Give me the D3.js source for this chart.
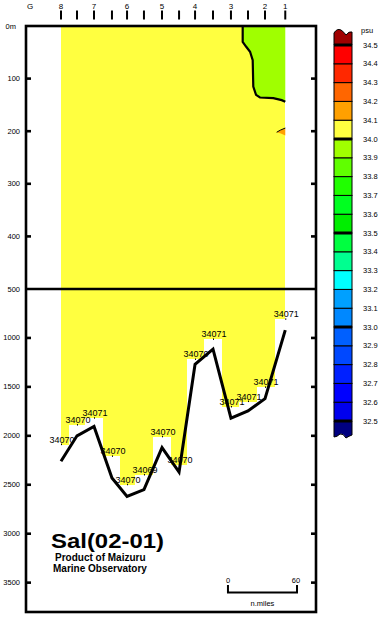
<!DOCTYPE html>
<html>
<head>
<meta charset="utf-8">
<script src="https://cdn.jsdelivr.net/npm/d3@7"></script>
<style>
  body { margin: 0; background: #fff; }
  svg text { font-family: "Liberation Sans", Arial, sans-serif; }
</style>
</head>
<body>
<svg id="chart" width="383" height="619"></svg>
<script>
// stations along the section, n.miles from the coast
let stationNames  = ["8", "", "7", "", "6", "", "5", "", "4", "", "3", "", "2", "1"];
let stationDist   = [30.4, 44.3, 59.1, 74.7, 87.8, 102.5, 118.2, 133, 146.9, 162.5, 178.1, 192.9, 207.7, 225.3];
let seafloorDepth = [2260, 2000, 1905, 2430, 2620, 2550, 2120, 2370, 1270, 1115, 1820, 1745, 1620, 920];
let obsDepth      = [2090, 1890, 1820, 2210, 2500, 2400, 2010, 2300, 1220, 1015, 1705, 1650, 1505, 810];
let bottomSal     = [34.070, 34.070, 34.071, 34.070, 34.070, 34.069, 34.070, 34.070, 34.070, 34.071, 34.071, 34.071, 34.071, 34.071];

// 34.0 psu contour near the surface (dist, depth)
let contour340 = [[188.3, 0], [188.3, 30], [191.2, 39], [194.7, 49], [197, 65], [197.5, 115],
                  [199.9, 131], [203.3, 136], [214.9, 137], [222.2, 141], [225.3, 144]];
let patch341 = [[225.3, 194], [221, 198], [217.8, 202], [221.5, 204.5], [225.3, 208]];

let depthTicks = [0, 100, 200, 300, 400, 500, 1000, 1500, 2000, 2500, 3000, 3500];
let salLevels = [32.5, 32.6, 32.7, 32.8, 32.9, 33.0, 33.1, 33.2, 33.3, 33.4, 33.5,
                 33.6, 33.7, 33.8, 33.9, 34.0, 34.1, 34.2, 34.3, 34.4, 34.5];
let salLabels = ["32.5", "32.6", "32.7", "32.8", "32.9", "33.0", "33.1", "33.2", "33.3", "33.4", "33.5",
                 "33.6", "33.7", "33.8", "33.9", "34.0", "34.1", "34.2", "34.3", "34.4", "34.5"];
let salColors = ["#000080", "#0000ee", "#0000ff", "#0020ff", "#0048ff", "#0060ff", "#0088ff", "#00a0ff",
                 "#00ffff", "#00ff90", "#00ff40", "#00ee00", "#00ff20", "#20ff00", "#60ff00", "#a0ff00",
                 "#ffff40", "#ffa000", "#ff6600", "#ff2800", "#ff0000", "#a00000"];
let majorLevels = [32.5, 33.0, 33.5, 34.0, 34.5];

let svg = d3.select("#chart");

let x = d3.scaleLinear().domain([0, 252]).range([26, 316]);
let y = d3.scaleLinear().domain([0, 500, 3800]).range([26, 289, 612]);
let color = d3.scaleThreshold().domain(salLevels).range(salColors);

svg.append("rect").attr("width", 383).attr("height", 619).attr("fill", "#fff");

// data columns, each station reaching down to its deepest bottle
let n = stationDist.length;
let edges = stationDist.map(function(d, i) {
  let left = i === 0 ? d : (stationDist[i - 1] + d) / 2;
  let right = i === n - 1 ? d : (stationDist[i + 1] + d) / 2;
  return [left, right];
});

svg.append("g").selectAll("rect")
  .data(stationDist)
  .enter().append("rect")
    .attr("x", function(d, i) { return x(edges[i][0]); })
    .attr("width", function(d, i) { return x(edges[i][1]) - x(edges[i][0]); })
    .attr("y", y(0))
    .attr("height", function(d, i) { return y(obsDepth[i]) - y(0); })
    .attr("fill", function(d, i) { return color(bottomSal[i]); })
    .attr("shape-rendering", "crispEdges");

// fresher water (33.9 - 34.0) in the upper right
let greenPoly = contour340.concat([[stationDist[n - 1], 0]]);
svg.append("path")
  .attr("d", d3.line().x(function(d) { return x(d[0]); }).y(function(d) { return y(d[1]); })(greenPoly) + "Z")
  .attr("fill", color(33.95));

svg.append("path")
  .attr("d", d3.line().x(function(d) { return x(d[0]); }).y(function(d) { return y(d[1]); })(patch341) + "Z")
  .attr("fill", color(34.15));
svg.append("path")
  .attr("d", d3.line().x(function(d) { return x(d[0]); }).y(function(d) { return y(d[1]); })(patch341.slice(0, 3)))
  .attr("fill", "none").attr("stroke", "#000").attr("stroke-width", 1);

svg.append("path")
  .attr("d", d3.line().x(function(d) { return x(d[0]); }).y(function(d) { return y(d[1]); })(contour340))
  .attr("fill", "none").attr("stroke", "#000").attr("stroke-width", 2.2);

// bottom values
let bottomLabels = svg.append("g");
bottomLabels.selectAll("text")
  .data(stationDist)
  .enter().append("text")
    .attr("x", function(d) { return x(d) + 1; })
    .attr("y", function(d, i) { return y(obsDepth[i]) - 2; })
    .attr("text-anchor", "middle")
    .attr("font-size", "9px")
    .text(function(d, i) { return d3.format("d")(Math.round(bottomSal[i] * 1000)); });
bottomLabels.selectAll("rect")
  .data(stationDist)
  .enter().append("rect")
    .attr("x", function(d) { return x(d); })
    .attr("y", function(d, i) { return y(obsDepth[i]) - 1; })
    .attr("width", 1).attr("height", 1.5)
    .attr("fill", "#000");

// sea floor, drawn over the labels as in the original
svg.append("path")
  .datum(stationDist)
  .attr("d", d3.line().x(function(d) { return x(d); }).y(function(d, i) { return y(seafloorDepth[i]); }))
  .attr("fill", "none").attr("stroke", "#000").attr("stroke-width", 3)
  .attr("stroke-linejoin", "miter");

// frame
let frame = svg.append("g").attr("stroke", "#000").attr("stroke-width", 2.6).attr("fill", "none");
frame.append("rect")
  .attr("x", x(0)).attr("y", y(0))
  .attr("width", x(252) - x(0)).attr("height", y(3800) - y(0));
frame.append("line")
  .attr("x1", x(0)).attr("x2", x(252)).attr("y1", y(500)).attr("y2", y(500));

// depth ticks on both sides
let ticks = svg.append("g").attr("stroke", "#000").attr("stroke-width", 2.6);
depthTicks.filter(function(d) { return d !== 0 && d !== 500; }).forEach(function(d) {
  ticks.append("line").attr("x1", x(0)).attr("x2", x(0) + 5).attr("y1", y(d)).attr("y2", y(d));
  ticks.append("line").attr("x1", x(252) - 5).attr("x2", x(252)).attr("y1", y(d)).attr("y2", y(d));
});

svg.append("g").selectAll("text")
  .data(depthTicks)
  .enter().append("text")
    .attr("x", function(d) { return d === 0 ? 16 : 20; })
    .attr("y", function(d) { return y(d) + 2.5; })
    .attr("text-anchor", "end")
    .attr("font-size", "7.5px")
    .text(function(d) { return d === 0 ? "0m" : d; });

// station ticks on top
svg.append("g").selectAll("line")
  .data(stationDist)
  .enter().append("line")
    .attr("x1", function(d) { return x(d); })
    .attr("x2", function(d) { return x(d); })
    .attr("y1", 10.5).attr("y2", 19.5)
    .attr("stroke", "#000").attr("stroke-width", 2);

svg.append("g").selectAll("text")
  .data(stationDist)
  .enter().append("text")
    .attr("x", function(d) { return x(d); })
    .attr("y", 8.5)
    .attr("text-anchor", "middle")
    .attr("font-size", "8px")
    .text(function(d, i) { return stationNames[i]; });
svg.append("text")
  .attr("x", x(3.5)).attr("y", 8.5)
  .attr("text-anchor", "middle").attr("font-size", "8px")
  .text("G");

// title
svg.append("text")
  .attr("x", 51).attr("y", 548)
  .attr("font-size", "20px").attr("font-weight", "bold")
  .attr("textLength", 113).attr("lengthAdjust", "spacingAndGlyphs")
  .text("Sal(02-01)");
svg.append("text")
  .attr("x", 55).attr("y", 560.5)
  .attr("font-size", "10px").attr("font-weight", "bold")
  .text("Product of Maizuru");
svg.append("text")
  .attr("x", 53).attr("y", 571.5)
  .attr("font-size", "10px").attr("font-weight", "bold")
  .text("Marine Observatory");

// distance scale bar
let sb = svg.append("g");
sb.append("path")
  .attr("d", "M" + x(175.5) + ",585V592.5H" + (x(175.5) + (x(60) - x(0))) + "V585")
  .attr("fill", "none").attr("stroke", "#000").attr("stroke-width", 2);
sb.append("text").attr("x", x(175.5)).attr("y", 583).attr("text-anchor", "middle")
  .attr("font-size", "7.5px").text("0");
sb.append("text").attr("x", x(175.5) + (x(60) - x(0)) - 1).attr("y", 583).attr("text-anchor", "middle")
  .attr("font-size", "7.5px").text("60");
sb.append("text").attr("x", x(175.5) + (x(30) - x(0))).attr("y", 606).attr("text-anchor", "middle")
  .attr("font-size", "7.5px").text("n.miles");

// colour legend
let cy = d3.scaleLinear().domain([34.5, 32.5]).range([45, 421]);
let legend = svg.append("g");
let bands = salLevels.slice(0, -1).map(function(d, i) { return [d, salLevels[i + 1]]; });

legend.selectAll("rect")
  .data(bands)
  .enter().append("rect")
    .attr("x", 334).attr("width", 18)
    .attr("y", function(d) { return cy(d[1]); })
    .attr("height", function(d) { return cy(d[0]) - cy(d[1]); })
    .attr("fill", function(d) { return color((d[0] + d[1]) / 2); })
    .attr("stroke", "#000").attr("stroke-width", 1);

legend.append("path")
  .attr("d", "M334," + cy(34.5) + "V33Q337,28 341,30Q344,32 346,35Q349,31 352,32V" + cy(34.5) + "Z")
  .attr("fill", color(34.6)).attr("stroke", "#000").attr("stroke-width", 1);
legend.append("path")
  .attr("d", "M334," + cy(32.5) + "V437Q337,437 340,434Q343,433 346,438Q349,436 352,435V" + cy(32.5) + "Z")
  .attr("fill", color(32.4)).attr("stroke", "#000").attr("stroke-width", 1);

legend.selectAll("line")
  .data(majorLevels)
  .enter().append("line")
    .attr("x1", 334).attr("x2", 352)
    .attr("y1", function(d) { return cy(d); })
    .attr("y2", function(d) { return cy(d); })
    .attr("stroke", "#000").attr("stroke-width", 3);

legend.selectAll("text")
  .data(salLevels)
  .enter().append("text")
    .attr("x", 363)
    .attr("y", function(d) { return cy(d) + 2.5; })
    .attr("font-size", "7.5px")
    .text(function(d, i) { return salLabels[i]; });
legend.append("text").attr("x", 361).attr("y", 33).attr("font-size", "7.5px").text("psu");
</script>
</body>
</html>
